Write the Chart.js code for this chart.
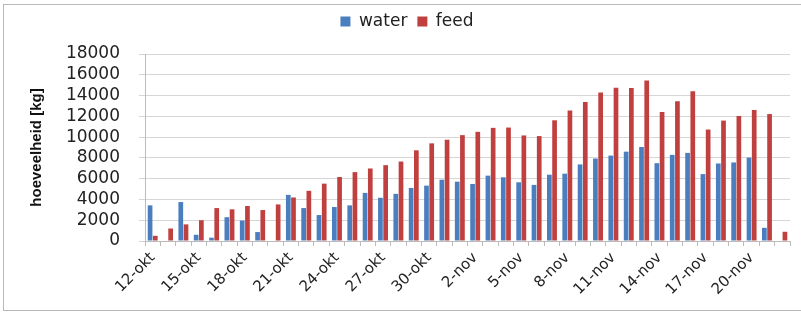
<!DOCTYPE html>
<html>
<head>
<meta charset="utf-8">
<script src="https://cdn.jsdelivr.net/npm/chart.js@4"></script>
<style>
  html, body { margin: 0; padding: 0; background: #fff; }
  #wrap { position: relative; width: 801px; height: 312px; }
  #frame { position: absolute; left: 3px; top: 4px; width: 810px; height: 307px; border: 1px solid #b8b8b8; box-sizing: border-box; pointer-events: none; }
</style>
</head>
<body>
<div id="wrap">
  <canvas id="myChart" width="801" height="312"></canvas>
  <div id="frame"></div>
</div>
<script>
// data
var labels = ["12-okt","13-okt","14-okt","15-okt","16-okt","17-okt","18-okt","19-okt","20-okt","21-okt",
  "22-okt","23-okt","24-okt","25-okt","26-okt","27-okt","28-okt","29-okt","30-okt","31-okt",
  "1-nov","2-nov","3-nov","4-nov","5-nov","6-nov","7-nov","8-nov","9-nov","10-nov",
  "11-nov","12-nov","13-nov","14-nov","15-nov","16-nov","17-nov","18-nov","19-nov","20-nov",
  "21-nov","22-nov"];
var water = [3430, 0, 3750, 600, 320, 2290, 1970, 860, 0, 4440,
  3170, 2500, 3270, 3430, 4630, 4160, 4540, 5110, 5330, 5900,
  5710, 5490, 6290, 6130, 5650, 5400, 6380, 6480, 7370, 7940,
  8220, 8600, 9050, 7490, 8290, 8480, 6440, 7460, 7560, 8030,
  1270, 0];
var feed = [500, 1200, 1600, 2000, 3170, 3050, 3370, 2980, 3520, 4190,
  4830, 5520, 6160, 6630, 6980, 7300, 7650, 8730, 9400, 9750,
  10190, 10510, 10890, 10920, 10160, 10100, 11620, 12570, 13370, 14290,
  14760, 14730, 15460, 12410, 13460, 14410, 10730, 11590, 12030, 12600,
  12220, 890];
var yTicks = [0, 2000, 4000, 6000, 8000, 10000, 12000, 14000, 16000, 18000];

var font = "'DejaVu Sans', sans-serif";

// extra room under the legend
var legendTweak = {
  id: 'legendTweak',
  beforeInit: function (chart) {
    var fit = chart.legend.fit;
    chart.legend.fit = function () {
      fit.bind(chart.legend)();
      this.height += 14;
    };
  }
};

var config = {
  type: 'bar',
  data: {
    labels: labels,
    datasets: [{
      label: 'water',
      data: water,
      backgroundColor: '#4a7ebf',
      categoryPercentage: 0.68,
      barPercentage: 0.9
    }, {
      label: 'feed',
      data: feed,
      backgroundColor: '#c0403f',
      categoryPercentage: 0.68,
      barPercentage: 0.9
    }]
  },
  options: {
    responsive: false,
    animation: false,
    layout: { padding: { top: 3, left: 24, right: 11, bottom: 0 } },
    plugins: {
      tooltip: { enabled: false },
      legend: {
        position: 'top',
        labels: { font: { family: font, size: 17 }, color: '#222', boxWidth: 10, boxHeight: 10, padding: 10 }
      }
    },
    scales: {
      x: {
        afterFit: function (s) { s.height = 71; },
        grid: { display: true, drawOnChartArea: false, offset: true, tickLength: 5, color: '#bbb' },
        border: { color: '#bbb' },
        ticks: {
          autoSkip: false,
          maxRotation: 45,
          minRotation: 45,
          color: '#222',
          padding: 3,
          font: { family: font, size: 15 },
          callback: function (v, i) { return i % 3 === 0 ? labels[i] : ''; }
        }
      },
      y: {
        min: 0,
        max: 18000,
        afterFit: function (s) { s.width = 121; },
        afterBuildTicks: function (s) { s.ticks = yTicks.map(function (v) { return { value: v }; }); },
        ticks: {
          autoSkip: false,
          color: '#222',
          font: { family: font, size: 17 },
          padding: 19,
          callback: function (v) { return String(v); }
        },
        grid: { color: '#d6d6d6', tickLength: 6 },
        border: { color: '#bbb' },
        title: {
          display: true,
          text: 'hoeveelheid [kg]',
          color: '#111',
          font: { family: "'Liberation Sans', sans-serif", size: 15, weight: 'bold' },
          padding: 4
        }
      }
    }
  },
  plugins: [legendTweak]
};

var myChart = new Chart(document.getElementById('myChart'), config);
</script>
</body>
</html>
